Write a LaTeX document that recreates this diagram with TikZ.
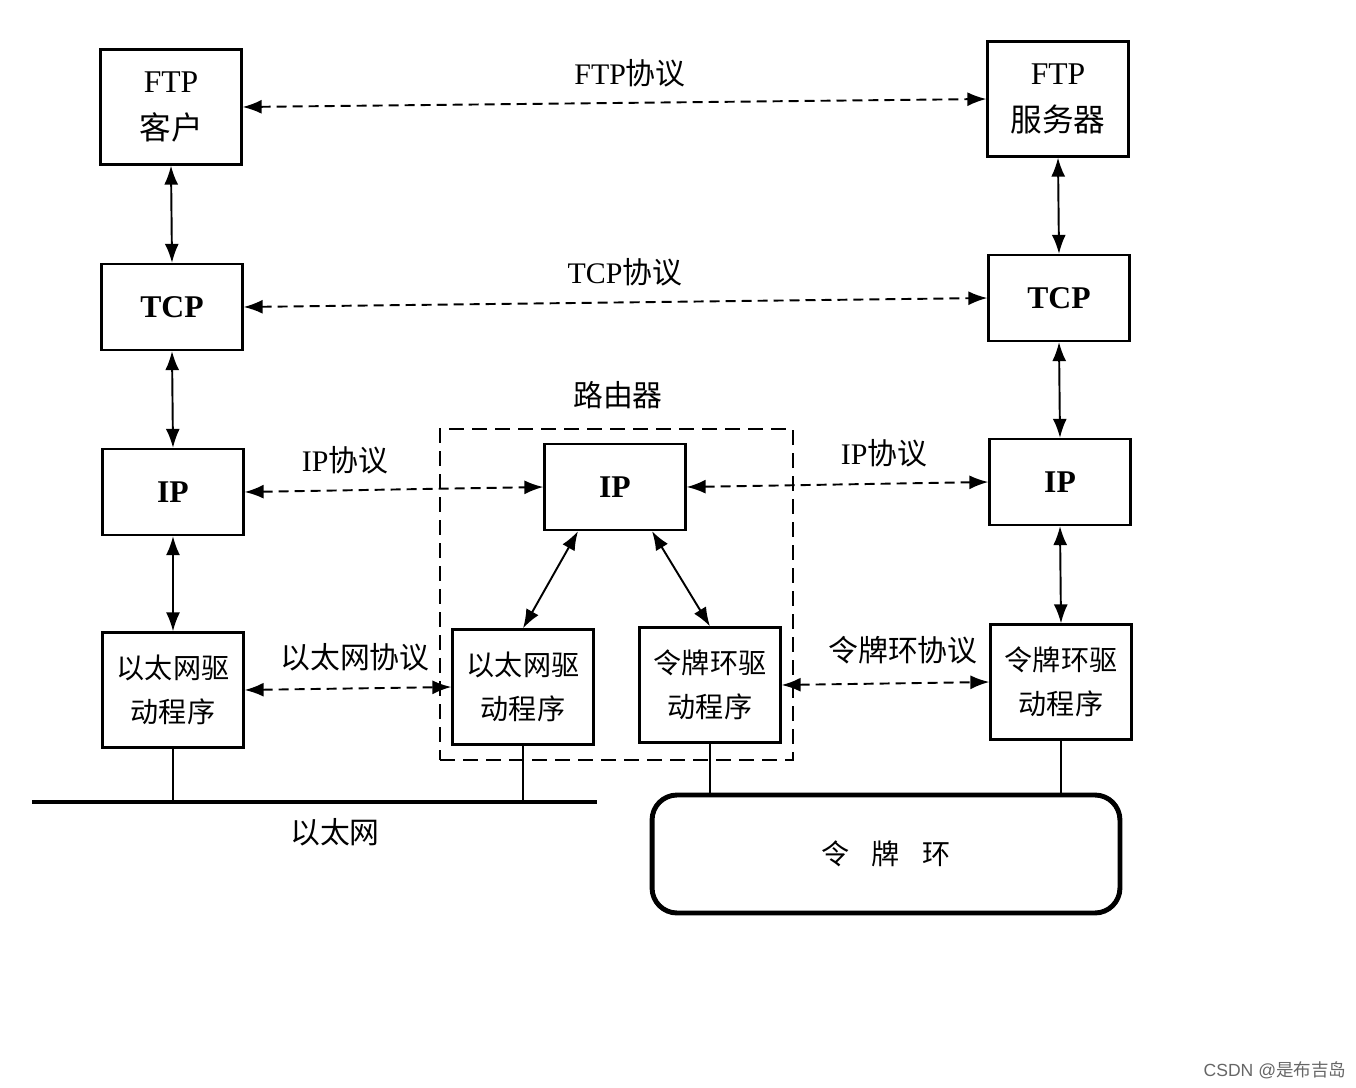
\documentclass[tikz,border=0pt]{standalone}
\usepackage{fontspec}
\setmainfont{Liberation Serif}
\setsansfont{Liberation Sans}
\newfontfamily\cjk{Noto Sans CJK SC}
\usepackage{tikz}
\usetikzlibrary{arrows.meta, positioning, fit}

\begin{document}
\begin{tikzpicture}[
  x=0.02cm, y=-0.02cm,
  layer/.style={draw, line width=1.3pt, minimum width=2.82cm, minimum height=1.72cm, inner sep=0pt, align=center, font=\fontsize{18}{27}\selectfont},
  driver/.style={layer, minimum height=2.3cm, font=\fontsize{16}{25}\selectfont\cjk},
  peer/.style={{Latex[length=3.8mm,width=2.8mm]}-{Latex[length=3.8mm,width=2.8mm]}, line width=1.1pt, dash pattern=on 0.2cm off 0.12cm},
  stack/.style={{Latex[length=3.8mm,width=2.8mm]}-{Latex[length=3.8mm,width=2.8mm]}, line width=1.1pt},
  proto/.style={font=\fontsize{17}{20}\selectfont},
  wire/.style={line width=1.2pt},
  routerbox/.style={draw, line width=1.1pt, dash pattern=on 0.3cm off 0.16cm, inner xsep=0.22cm, inner ysep=0.28cm}
]
\useasboundingbox (0,0) rectangle (1356,1088);

% --- Client host (left) ---
\node[layer, minimum height=2.3cm] (ftpc) at (171,107) {FTP\\\cjk 客户};
\node[layer, font=\fontsize{18}{20}\selectfont\bfseries] (tcpl) at (172,307) {TCP};
\node[layer, font=\fontsize{18}{20}\selectfont\bfseries] (ipl) at (173,492) {IP};
\node[driver] (ethl) at (173,690) {以太网驱\\动程序};

% --- Server host (right) ---
\node[layer, minimum height=2.3cm] (ftps) at (1058,99) {FTP\\\cjk 服务器};
\node[layer, font=\fontsize{18}{20}\selectfont\bfseries] (tcpr) at (1059,298) {TCP};
\node[layer, font=\fontsize{18}{20}\selectfont\bfseries] (ipr) at (1060,482) {IP};
\node[driver] (tokr) at (1061,682) {令牌环驱\\动程序};

% --- Router ---
\node[layer, font=\fontsize{18}{20}\selectfont\bfseries] (rip) at (615,487) {IP};
\node[driver] (reth) at (523,687) {以太网驱\\动程序};
\node[driver] (rtok) at (710,685) {令牌环驱\\动程序};
\node[routerbox, fit=(rip) (reth) (rtok)] (router) {};
\node[proto, font=\fontsize{17}{20}\selectfont\cjk] (routerlbl) at (618,395) {路由器};

% Layers inside each host
\draw[stack] (ftpc.south) -- (tcpl.north);
\draw[stack] (tcpl.south) -- (ipl.north);
\draw[stack] (ipl.south) -- (ethl.north);
\draw[stack] (ftps.south) -- (tcpr.north);
\draw[stack] (tcpr.south) -- (ipr.north);
\draw[stack] (ipr.south) -- (tokr.north);
\draw[stack] ([xshift=-0.74cm]rip.south) -- (reth.north);
\draw[stack] ([xshift=0.74cm]rip.south) -- (rtok.north);

% Peer protocols
\draw[peer] (ftpc.east) -- (ftps.west);
\node[proto] (ftpp) at (630,73) {FTP{\cjk 协议}};
\draw[peer] (tcpl.east) -- (tcpr.west);
\node[proto] (tcpp) at (625,272) {TCP{\cjk 协议}};
\draw[peer] (ipl.east) -- (rip.west);
\node[proto] (ipp1) at (345,460) {IP{\cjk 协议}};
\draw[peer] (rip.east) -- (ipr.west);
\node[proto] (ipp2) at (884,453) {IP{\cjk 协议}};
\draw[peer] (ethl.east) -- (reth.west);
\node[proto, font=\fontsize{17}{20}\selectfont\cjk] (ethp) at (355,657) {以太网协议};
\draw[peer] (rtok.east) -- (tokr.west);
\node[proto, font=\fontsize{17}{20}\selectfont\cjk] (tokp) at (903,650) {令牌环协议};

% --- Networks ---
\coordinate (busl) at (32,802);
\coordinate (busr) at (597,802);
\draw[line width=2.8pt] (busl) -- (busr);
\node[proto, font=\fontsize{17}{20}\selectfont\cjk] (buslbl) at (335,832) {以太网};
\draw[wire] (ethl.south) -- (ethl.south |- busl);
\draw[wire] (reth.south) -- (reth.south |- busl);

\node[draw, line width=2.8pt, rounded corners=0.5cm, minimum width=9.36cm, minimum height=2.36cm, font=\fontsize{16}{20}\selectfont\cjk] (ring) at (886,854) {令\hspace{0.45cm}牌\hspace{0.45cm}环};
\draw[wire] (rtok.south) -- (rtok.south |- ring.north);
\draw[wire] (tokr.south) -- (tokr.south |- ring.north);

% watermark
\node[font=\fontsize{10}{12}\selectfont\sffamily, text=gray!80!black] (csdn) at (1275,1070) {CSDN @{\cjk 是布吉岛}};
\end{tikzpicture}
\end{document}
